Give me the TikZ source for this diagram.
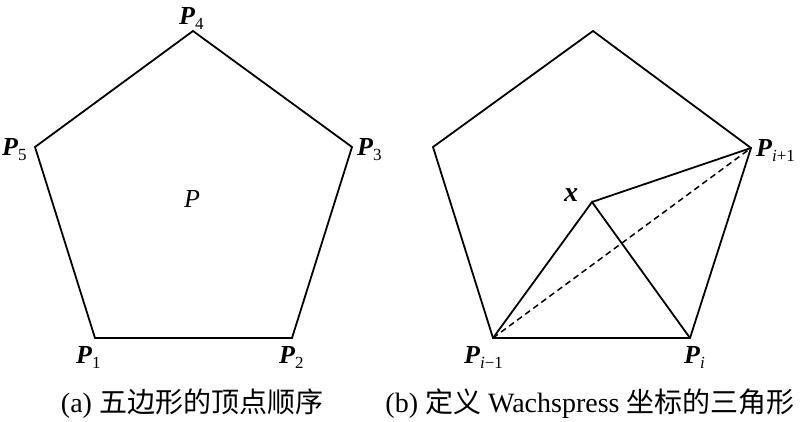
\documentclass[tikz,border=0pt]{standalone}
\usepackage{fontspec}
\setmainfont{Liberation Serif}
\newfontfamily\cjk{Noto Sans CJK SC}
\newcommand\Pv[1]{{\bfseries\itshape P}\raisebox{-5pt}{\fontsize{17}{17}\selectfont #1}}
\begin{document}
\begin{tikzpicture}[x=1pt,y=-1pt,
  edge/.style={line width=1.8pt, line join=miter},
  dashline/.style={line width=1.5pt, dash pattern=on 6pt off 4pt},
  lab/.style={anchor=base west, inner sep=0pt, font=\fontsize{26}{26}\selectfont},
  captext/.style={anchor=base, inner sep=0pt, font=\fontsize{28}{28}\selectfont}]
\useasboundingbox (0,0) rectangle (800,421);
% left pentagon
\coordinate (A1) at (95,338);
\coordinate (A2) at (292,338);
\coordinate (A3) at (352,147);
\coordinate (A4) at (193,31);
\coordinate (A5) at (35,147);
\draw[edge] (A1) -- (A2) -- (A3) -- (A4) -- (A5) -- cycle;
% right pentagon
\coordinate (B1) at (493,338);
\coordinate (B2) at (690,338);
\coordinate (B3) at (751,148);
\coordinate (B4) at (593,31);
\coordinate (B5) at (433,147);
\coordinate (X) at (592,202);
\draw[edge] (B1) -- (B2) -- (B3) -- (B4) -- (B5) -- cycle;
\draw[edge] (B1) -- (X) -- (B2);
\draw[edge] (X) -- (B3);
\draw[dashline] (B1) -- (B3);
% labels left
\node[lab] (l4) at (179,24) {\Pv{4}};
\node[lab] (l5) at (2,155) {\Pv{5}};
\node[lab] (l3) at (357,155) {\Pv{3}};
\node[lab] (l1) at (76,363) {\Pv{1}};
\node[lab] (l2) at (279,363) {\Pv{2}};
\node[lab] (lp) at (184,207) {\textit{P}};
% labels right
\node[lab] (lim) at (464,363) {\Pv{\textit{i}−1}};
\node[lab] (li) at (684,363) {\Pv{\textit{i}}};
\node[lab] (lip) at (756,156) {\Pv{\textit{i}+1}};
\node[lab,font=\fontsize{28}{28}\selectfont] (lx) at (564,201) {\textbf{\textit{x}}};
% captions
\node[captext] (ca) at (192,412) {(a) {\cjk 五边形的顶点顺序}};
\node[captext] (cb) at (590,412) {(b) {\cjk 定义} Wachspress {\cjk 坐标的三角形}};
\end{tikzpicture}
\end{document}
